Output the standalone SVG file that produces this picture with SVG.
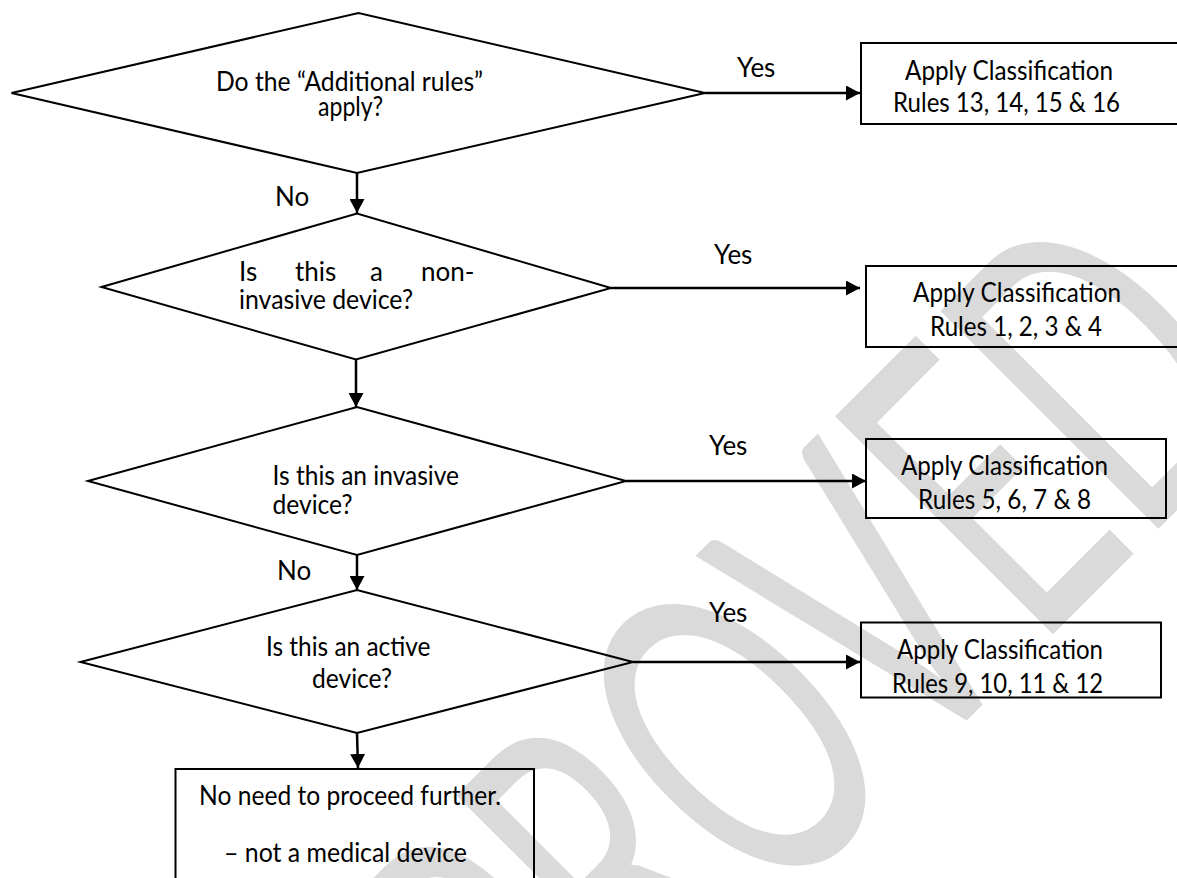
<svg xmlns="http://www.w3.org/2000/svg" width="1177" height="878" viewBox="0 0 1177 878">
<style>
.shape{fill:none;stroke:#000;stroke-width:2}
.conn{fill:none;stroke:#000;stroke-width:2.5}
.t{font-family:Lato,"Liberation Sans",sans-serif;font-size:26px;fill:#000}
.wm{font-family:Lato,"Liberation Sans",sans-serif;font-size:430px;fill:#dadada}
</style>
<defs>
<marker id="ah" markerUnits="userSpaceOnUse" viewBox="0 0 14 15" refX="14" refY="7.5" markerWidth="14" markerHeight="15" orient="auto">
<path d="M0,0 L14,7.5 L0,15 Z" fill="#000"/>
</marker>
</defs>
<rect width="1177" height="878" fill="#fff"/>
<g id="watermark">
<text class="wm" x="0" y="155" text-anchor="middle" transform="translate(688 780) rotate(-45) scale(0.6 1)">APPROVED</text>
</g>
<g id="connectors">
<line class="conn" x1="705" y1="93" x2="860" y2="93" marker-end="url(#ah)"/>
<line class="conn" x1="357" y1="173" x2="357" y2="213" marker-end="url(#ah)"/>
<line class="conn" x1="611" y1="288" x2="860" y2="288" marker-end="url(#ah)"/>
<line class="conn" x1="356" y1="359" x2="356" y2="407" marker-end="url(#ah)"/>
<line class="conn" x1="626" y1="481" x2="866" y2="481" marker-end="url(#ah)"/>
<line class="conn" x1="357" y1="555" x2="357" y2="590" marker-end="url(#ah)"/>
<line class="conn" x1="633" y1="662" x2="860" y2="662" marker-end="url(#ah)"/>
<line class="conn" x1="357" y1="733" x2="358" y2="768" marker-end="url(#ah)"/>
<text class="t" x="737" y="77">Yes</text>
<text class="t" x="275" y="206">No</text>
<text class="t" x="714" y="264">Yes</text>
<text class="t" x="709" y="455">Yes</text>
<text class="t" x="277" y="580">No</text>
<text class="t" x="709" y="622">Yes</text>
</g>
<g id="d1">
<polygon class="shape" points="11.5,93 358.5,13 705,93 357,173"/>
<text class="t" x="216" y="91" textLength="267" lengthAdjust="spacingAndGlyphs">Do the “Additional rules”</text>
<text class="t" x="318" y="116" textLength="65" lengthAdjust="spacingAndGlyphs">apply?</text>
</g>
<g id="b1">
<rect class="shape" x="861" y="43" width="330" height="81"/>
<text class="t" x="905" y="80" textLength="208" lengthAdjust="spacingAndGlyphs">Apply Classification</text>
<text class="t" x="893" y="112" textLength="227" lengthAdjust="spacingAndGlyphs">Rules 13, 14, 15 &amp; 16</text>
</g>
<g id="d2">
<polygon class="shape" points="101.5,287 357,213.5 611,288 356,359.5"/>
<text class="t" y="281"><tspan x="239">Is</tspan><tspan x="295">this</tspan><tspan x="370">a</tspan><tspan x="421">non-</tspan></text>
<text class="t" x="239" y="309" textLength="174" lengthAdjust="spacingAndGlyphs">invasive device?</text>
</g>
<g id="b2">
<rect class="shape" x="866" y="266" width="325" height="81"/>
<text class="t" x="913" y="302" textLength="208" lengthAdjust="spacingAndGlyphs">Apply Classification</text>
<text class="t" x="930" y="336" textLength="172" lengthAdjust="spacingAndGlyphs">Rules 1, 2, 3 &amp; 4</text>
</g>
<g id="d3">
<polygon class="shape" points="88,481 357,407 626,481 357,555"/>
<text class="t" x="272.5" y="485" textLength="186.5" lengthAdjust="spacingAndGlyphs">Is this an invasive</text>
<text class="t" x="272.5" y="514" textLength="80" lengthAdjust="spacingAndGlyphs">device?</text>
</g>
<g id="b3">
<rect class="shape" x="866" y="439" width="300" height="79"/>
<text class="t" x="901" y="475" textLength="207" lengthAdjust="spacingAndGlyphs">Apply Classification</text>
<text class="t" x="918" y="509" textLength="173" lengthAdjust="spacingAndGlyphs">Rules 5, 6, 7 &amp; 8</text>
</g>
<g id="d4">
<polygon class="shape" points="80.5,662 357,590 633,662 357,733"/>
<text class="t" x="266" y="656" textLength="164.5" lengthAdjust="spacingAndGlyphs">Is this an active</text>
<text class="t" x="312" y="688" textLength="80" lengthAdjust="spacingAndGlyphs">device?</text>
</g>
<g id="b4">
<rect class="shape" x="861" y="622.5" width="300" height="75"/>
<text class="t" x="897" y="659" textLength="206" lengthAdjust="spacingAndGlyphs">Apply Classification</text>
<text class="t" x="892" y="693" textLength="211" lengthAdjust="spacingAndGlyphs">Rules 9, 10, 11 &amp; 12</text>
</g>
<g id="b5">
<rect class="shape" x="175.5" y="769" width="358.5" height="130"/>
<text class="t" x="199" y="805" textLength="302" lengthAdjust="spacingAndGlyphs">No need to proceed further.</text>
<text class="t" x="224" y="862" textLength="243" lengthAdjust="spacingAndGlyphs">– not a medical device</text>
</g>
</svg>
